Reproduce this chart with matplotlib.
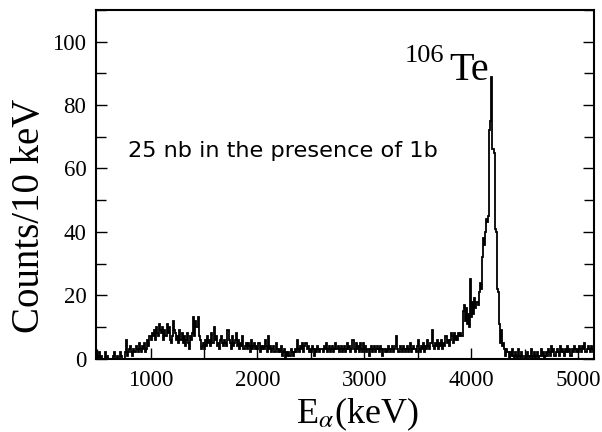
import numpy as np
import matplotlib
matplotlib.use("Agg")
import matplotlib.pyplot as plt
from matplotlib.ticker import MultipleLocator

plt.rcParams['font.family'] = ['Liberation Serif', 'DejaVu Serif']
plt.rcParams['mathtext.fontset'] = 'stix'

# histogram: 10 keV bins starting at 500 keV
bin_start = 500
bin_width = 10
counts = [
    1, 0, 2, 0, 1, 0, 0, 2, 0, 1,      # 500
    0, 0, 0, 0, 0, 1, 2, 0, 0, 1,      # 600
    0, 2, 1, 0, 0, 0, 2, 6, 1, 2,      # 700
    3, 4, 2, 1, 3, 2, 4, 3, 2, 5,      # 800
    3, 2, 4, 3, 5, 2, 3, 6, 4, 7,      # 900
    6, 8, 7, 9, 6, 10, 8, 7, 11, 9,    # 1000
    8, 10, 6, 9, 7, 11, 8, 10, 6, 5,   # 1100
    7, 12, 9, 8, 6, 7, 5, 9, 6, 8,     # 1200
    5, 7, 4, 6, 8, 5, 3, 7, 6, 8,      # 1300
    13, 7, 12, 10, 13, 7, 6, 3, 4, 5,  # 1400
    3, 6, 4, 7, 5, 6, 4, 8, 5, 10,     # 1500
    6, 7, 4, 5, 3, 6, 7, 5, 4, 6,      # 1600
    5, 4, 9, 6, 5, 3, 7, 4, 5, 6,      # 1700
    8, 4, 6, 3, 5, 4, 7, 3, 4, 5,      # 1800
    3, 5, 4, 2, 6, 3, 4, 5, 3, 4,      # 1900
    3, 5, 2, 4, 3, 4, 3, 6, 4, 2,      # 2000
    7, 3, 4, 2, 3, 4, 2, 5, 3, 2,      # 2100
    3, 2, 4, 1, 2, 3, 0, 2, 1, 2,      # 2200
    1, 3, 2, 1, 2, 3, 2, 6, 3, 2,      # 2300
    4, 3, 5, 2, 4, 5, 3, 4, 2, 3,      # 2400
    2, 4, 3, 1, 3, 2, 4, 3, 2, 3,      # 2500
    3, 2, 4, 3, 5, 2, 3, 4, 2, 3,      # 2600
    4, 2, 3, 5, 3, 4, 2, 3, 4, 2,      # 2700
    3, 4, 2, 3, 5, 3, 4, 2, 3, 6,      # 2800
    3, 2, 5, 3, 4, 2, 5, 3, 2, 5,      # 2900
    3, 4, 2, 3, 1, 3, 4, 2, 3, 4,      # 3000
    2, 3, 4, 3, 2, 4, 3, 1, 3, 2,      # 3100
    3, 2, 4, 3, 2, 3, 4, 2, 3, 4,      # 3200
    7, 3, 2, 4, 3, 2, 4, 3, 2, 3,      # 3300
    4, 2, 3, 5, 2, 3, 4, 3, 2, 4,      # 3400
    6, 3, 2, 4, 3, 5, 2, 4, 3, 6,      # 3500
    4, 3, 5, 9, 4, 3, 5, 4, 6, 3,      # 3600
    5, 4, 6, 3, 5, 4, 7, 5, 6, 4,      # 3700
    6, 8, 7, 5, 8, 6, 7, 6, 8, 7,      # 3800
    8, 7, 15, 17, 12, 16, 11, 14, 10, 25,   # 3900
    13, 18, 14, 19, 16, 18, 17, 21, 24, 22, # 4000
    32, 38, 36, 40, 44, 43, 45, 72, 75, 89, # 4100
    66, 65, 41, 40, 22, 21, 11, 5, 9, 4,   # 4200
    5, 3, 1, 3, 2, 0, 2, 1, 3, 1,      # 4300
    0, 2, 1, 0, 3, 1, 0, 2, 1, 0,      # 4400
    1, 0, 2, 1, 0, 1, 3, 0, 1, 2,      # 4500
    0, 1, 2, 0, 1, 3, 1, 2, 0, 1,      # 4600
    2, 1, 3, 2, 1, 4, 2, 3, 1, 2,      # 4700
    3, 2, 1, 4, 2, 3, 2, 1, 3, 2,      # 4800
    4, 2, 3, 1, 3, 2, 4, 3, 2, 3,      # 4900
    2, 4, 3, 2, 4, 3, 5, 2, 3, 4,      # 5000
    3, 2, 4, 3, 2,                     # 5100
]

x_major = [1000, 2000, 3000, 4000, 5000]
y_major = [0, 20, 40, 60, 80, 100]

counts = np.array(counts, dtype=float)
edges = bin_start + bin_width * np.arange(len(counts) + 1)

fig = plt.figure(figsize=(6.02, 4.32), dpi=100)
ax = fig.add_axes([0.1595, 0.1697, 0.8272, 0.8073])

ax.stairs(counts, edges, color='black', linewidth=1.3, baseline=0)

ax.set_xlim(490, 5150)
ax.set_ylim(0, 110)
ax.set_xticks(x_major)
ax.set_yticks(y_major)
ax.xaxis.set_minor_locator(MultipleLocator(500))
ax.yaxis.set_minor_locator(MultipleLocator(10))
ax.tick_params(which='both', direction='in', right=True, top=False,
               labelsize=16.5, width=1.0)
ax.tick_params(axis='y', which='both', pad=7)
ax.tick_params(axis='x', which='both', pad=8)
ax.tick_params(which='major', length=8)
ax.tick_params(which='minor', length=7)
for s in ax.spines.values():
    s.set_linewidth(1.5)

# y label placed explicitly (centered lower than the axes middle, as in reference)
fig.text(29 / 602, 1 - 216 / 432, 'Counts/10 keV', fontsize=28,
         rotation=90, ha='center', va='center')
ax.set_xlabel(r'E$_{\alpha}$(keV)', fontsize=26)
ax.xaxis.set_label_coords(0.524, -0.105)
ax.xaxis.label.set_va('top')

ax.text(786, 63.5, '25 nb in the presence of 1b', fontsize=16.2,
        family=['DejaVu Sans'], ha='left', va='baseline')
ax.text(3379, 93.5, '106', fontsize=19, ha='left', va='baseline')
ax.text(3800, 88.0, 'Te', fontsize=29, ha='left', va='baseline')

fig.savefig('out.png', dpi=100)
